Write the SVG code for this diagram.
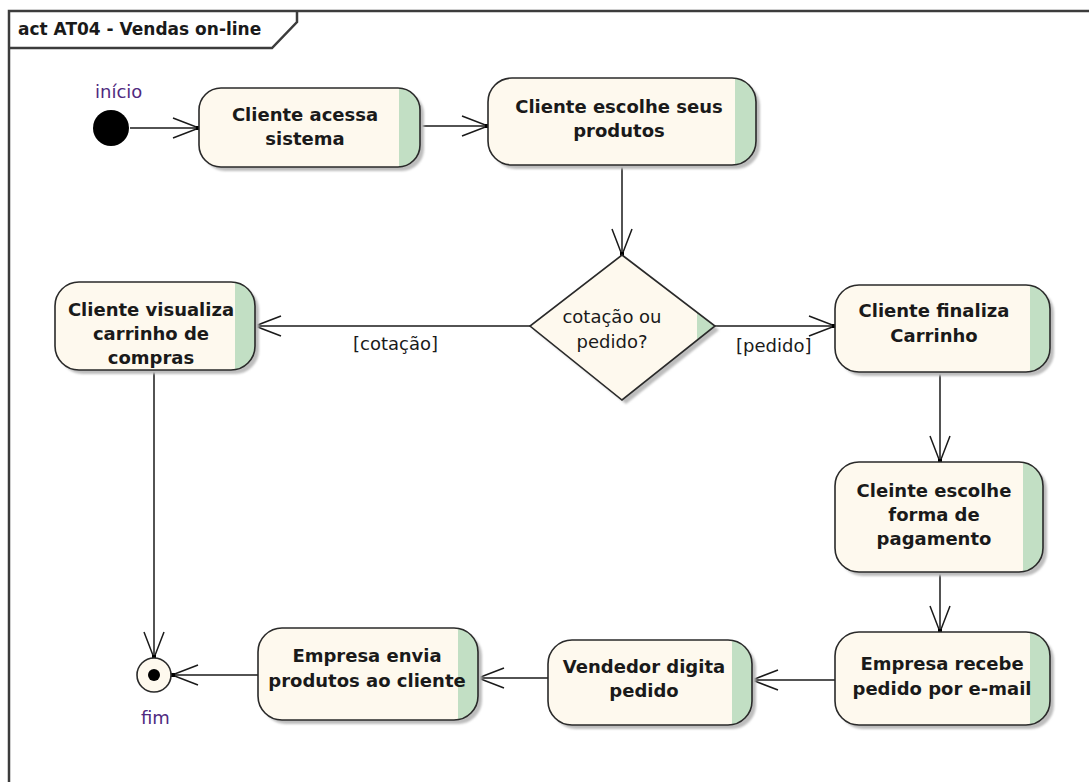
<svg xmlns="http://www.w3.org/2000/svg" width="1089" height="782" viewBox="0 0 1089 782">
<style>
.frame{fill:none;stroke:#3c3c3c;stroke-width:2.5}
.shadow{fill:#bdbdbd}
.body{fill:#fef9ee}
.strip{fill:#c2dfc4}
.outline{fill:none;stroke:#2a2a2a;stroke-width:1.6}
.t{font-family:"DejaVu Sans",Verdana,sans-serif;font-weight:bold;font-size:18px;fill:#1a1a1a;text-anchor:middle}
.r{font-family:"DejaVu Sans",Verdana,sans-serif;font-size:18px;fill:#1a1a1a}
.lbl{font-family:"DejaVu Sans",Verdana,sans-serif;font-size:18px;fill:#502a80}
.title{font-family:"DejaVu Sans",Verdana,sans-serif;font-weight:bold;font-size:17px;fill:#1a1a1a}
.edge{fill:none;stroke:#1a1a1a;stroke-width:1.5}
</style>
<defs>
<filter id="blur" x="-10%" y="-10%" width="120%" height="120%"><feGaussianBlur stdDeviation="1.2"/></filter>
<marker id="arr" markerUnits="userSpaceOnUse" markerWidth="40" markerHeight="30" viewBox="-30 -15 40 30" refX="0" refY="0" orient="auto">
<path d="M-26,-10 L0,0 L-26,10" fill="none" stroke="#1a1a1a" stroke-width="1.5"/>
<rect x="-3" y="-2" width="4" height="4" fill="#000"/>
</marker>
<clipPath id="c1"><rect x="199" y="88" width="221" height="79" rx="22"/></clipPath>
<clipPath id="c2"><rect x="488" y="78" width="268" height="87" rx="24"/></clipPath>
<clipPath id="c3"><rect x="55" y="282" width="200" height="88" rx="24"/></clipPath>
<clipPath id="c4"><rect x="835" y="285" width="215" height="87" rx="24"/></clipPath>
<clipPath id="c5"><rect x="835" y="462" width="208" height="110" rx="24"/></clipPath>
<clipPath id="c6"><rect x="835" y="632" width="215" height="93" rx="24"/></clipPath>
<clipPath id="c7"><rect x="548" y="640" width="204" height="85" rx="24"/></clipPath>
<clipPath id="c8"><rect x="258" y="628" width="220" height="92" rx="24"/></clipPath>
<clipPath id="cd"><polygon points="622,255 715,326 622,400 530,326"/></clipPath>
</defs>

<g id="frame">
<path class="frame" d="M9,790 V11 H1095"/>
<path class="frame" d="M9,48 H272 L297,22 V11"/>
<text class="title" x="18" y="35">act AT04 - Vendas on-line</text>
</g>

<g id="connectors">
<line class="edge" x1="130" y1="128" x2="199" y2="128" marker-end="url(#arr)"/>
<line class="edge" x1="420" y1="126" x2="488" y2="126" marker-end="url(#arr)"/>
<line class="edge" x1="622" y1="165" x2="622" y2="255" marker-end="url(#arr)"/>
<line class="edge" x1="530" y1="326" x2="255" y2="326" marker-end="url(#arr)"/>
<line class="edge" x1="715" y1="326" x2="835" y2="326" marker-end="url(#arr)"/>
<line class="edge" x1="940" y1="372" x2="940" y2="462" marker-end="url(#arr)"/>
<line class="edge" x1="940" y1="572" x2="940" y2="632" marker-end="url(#arr)"/>
<line class="edge" x1="835" y1="680" x2="752" y2="680" marker-end="url(#arr)"/>
<line class="edge" x1="548" y1="678" x2="478" y2="678" marker-end="url(#arr)"/>
<line class="edge" x1="258" y1="675" x2="172" y2="675" marker-end="url(#arr)"/>
<line class="edge" x1="154" y1="370" x2="154" y2="658" marker-end="url(#arr)"/>
<text class="r" x="353" y="350">[cotação]</text>
<text class="r" x="736" y="352">[pedido]</text>
</g>

<g id="inicio">
<circle cx="111" cy="128" r="18" fill="#000"/>
<text class="lbl" x="95" y="98">início</text>
</g>

<g id="fim">
<circle cx="154" cy="675" r="17" fill="#fef9ee" stroke="#2a2a2a" stroke-width="1.6"/>
<circle cx="154" cy="675" r="6" fill="#000"/>
<text class="lbl" x="141" y="724">fim</text>
</g>

<g id="n1">
<rect class="shadow" x="203" y="92" width="221" height="79" rx="22" filter="url(#blur)"/>
<rect class="body" x="199" y="88" width="221" height="79" rx="22"/>
<rect class="strip" x="399" y="88" width="21" height="79" clip-path="url(#c1)"/>
<rect class="outline" x="199" y="88" width="221" height="79" rx="22"/>
<text class="t" x="305" y="121">Cliente acessa</text>
<text class="t" x="305" y="145">sistema</text>
</g>

<g id="n2">
<rect class="shadow" x="492" y="82" width="268" height="87" rx="24" filter="url(#blur)"/>
<rect class="body" x="488" y="78" width="268" height="87" rx="24"/>
<rect class="strip" x="735" y="78" width="21" height="87" clip-path="url(#c2)"/>
<rect class="outline" x="488" y="78" width="268" height="87" rx="24"/>
<text class="t" x="619" y="113">Cliente escolhe seus</text>
<text class="t" x="619" y="137">produtos</text>
</g>

<g id="decisao">
<polygon class="shadow" points="626,259 719,330 626,404 534,330" filter="url(#blur)"/>
<polygon class="body" points="622,255 715,326 622,400 530,326"/>
<rect class="strip" x="697" y="255" width="20" height="145" clip-path="url(#cd)"/>
<polygon class="outline" points="622,255 715,326 622,400 530,326"/>
<text class="r" x="612" y="323" text-anchor="middle">cotação ou</text>
<text class="r" x="612" y="348" text-anchor="middle">pedido?</text>
</g>

<g id="n3">
<rect class="shadow" x="59" y="286" width="200" height="88" rx="24" filter="url(#blur)"/>
<rect class="body" x="55" y="282" width="200" height="88" rx="24"/>
<rect class="strip" x="235" y="282" width="20" height="88" clip-path="url(#c3)"/>
<rect class="outline" x="55" y="282" width="200" height="88" rx="24"/>
<text class="t" x="151" y="316">Cliente visualiza</text>
<text class="t" x="151" y="340">carrinho de</text>
<text class="t" x="151" y="364">compras</text>
</g>

<g id="n4">
<rect class="shadow" x="839" y="289" width="215" height="87" rx="24" filter="url(#blur)"/>
<rect class="body" x="835" y="285" width="215" height="87" rx="24"/>
<rect class="strip" x="1030" y="285" width="20" height="87" clip-path="url(#c4)"/>
<rect class="outline" x="835" y="285" width="215" height="87" rx="24"/>
<text class="t" x="934" y="317">Cliente finaliza</text>
<text class="t" x="934" y="342">Carrinho</text>
</g>

<g id="n5">
<rect class="shadow" x="839" y="466" width="208" height="110" rx="24" filter="url(#blur)"/>
<rect class="body" x="835" y="462" width="208" height="110" rx="24"/>
<rect class="strip" x="1023" y="462" width="20" height="110" clip-path="url(#c5)"/>
<rect class="outline" x="835" y="462" width="208" height="110" rx="24"/>
<text class="t" x="934" y="497">Cleinte escolhe</text>
<text class="t" x="934" y="521">forma de</text>
<text class="t" x="934" y="545">pagamento</text>
</g>

<g id="n6">
<rect class="shadow" x="839" y="636" width="215" height="93" rx="24" filter="url(#blur)"/>
<rect class="body" x="835" y="632" width="215" height="93" rx="24"/>
<rect class="strip" x="1030" y="632" width="20" height="93" clip-path="url(#c6)"/>
<rect class="outline" x="835" y="632" width="215" height="93" rx="24"/>
<text class="t" x="942" y="670">Empresa recebe</text>
<text class="t" x="942" y="695">pedido por e-mail</text>
</g>

<g id="n7">
<rect class="shadow" x="552" y="644" width="204" height="85" rx="24" filter="url(#blur)"/>
<rect class="body" x="548" y="640" width="204" height="85" rx="24"/>
<rect class="strip" x="732" y="640" width="20" height="85" clip-path="url(#c7)"/>
<rect class="outline" x="548" y="640" width="204" height="85" rx="24"/>
<text class="t" x="644" y="673">Vendedor digita</text>
<text class="t" x="644" y="697">pedido</text>
</g>

<g id="n8">
<rect class="shadow" x="262" y="632" width="220" height="92" rx="24" filter="url(#blur)"/>
<rect class="body" x="258" y="628" width="220" height="92" rx="24"/>
<rect class="strip" x="458" y="628" width="20" height="92" clip-path="url(#c8)"/>
<rect class="outline" x="258" y="628" width="220" height="92" rx="24"/>
<text class="t" x="367" y="662">Empresa envia</text>
<text class="t" x="367" y="687">produtos ao cliente</text>
</g>
</svg>
